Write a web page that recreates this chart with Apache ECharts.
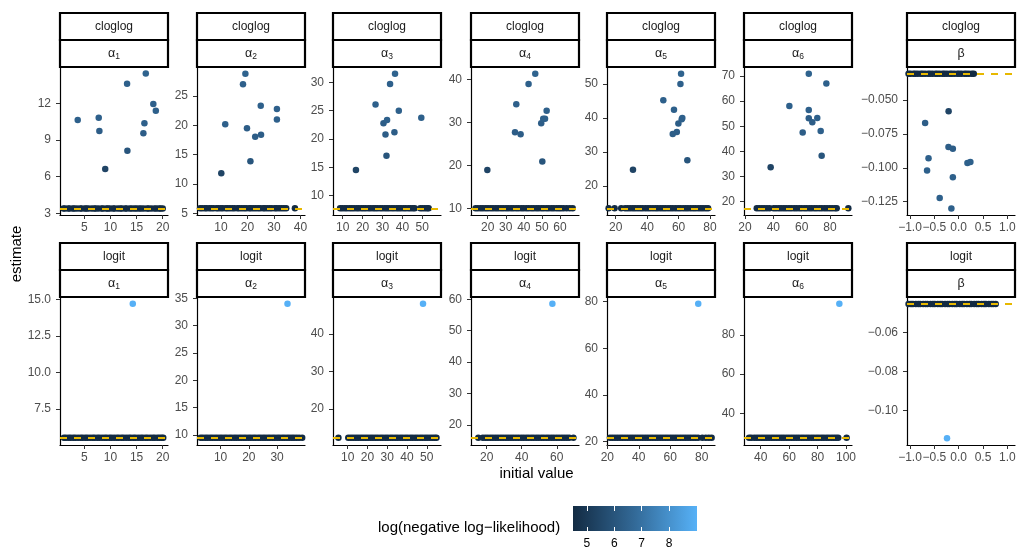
<!DOCTYPE html>
<html>
<head>
<meta charset="utf-8">
<title>Sensitivity of estimates to initial values</title>
<script src="https://cdn.jsdelivr.net/npm/echarts@6/dist/echarts.min.js"></script>
<style>
  html, body { margin: 0; padding: 0; background: #ffffff; }
  #chart { width: 1022px; height: 549px; }
</style>
</head>
<body>
<div id="chart"></div>
<script>
// ---------------------------------------------------------------------------
// Data
// ---------------------------------------------------------------------------
const links = ['cloglog', 'logit'];
const params = ['α1', 'α2', 'α3', 'α4', 'α5', 'α6', 'β'];

// Converged estimate (dashed reference line) for each link and parameter
const mleCloglog = [3.40, 5.85, 7.78, 10.0, 13.44, 17.37, -0.0306];
const mleLogit = [5.54, 9.51, 12.35, 15.96, 21.71, 27.55, -0.0456];

// log(negative log-likelihood) of the runs that reached the optimum
const convergedNll = 4.5;

// Initial values of the runs that reached the optimum
const convergedInitCloglog = [
  [1.0, 1.3, 1.9, 2.2, 2.8, 3.1, 3.6, 4.2, 4.5, 5.1, 5.4, 5.8, 6.4, 6.9, 7.2, 7.7, 8.3, 8.6, 9.2, 9.5, 9.9, 10.5, 10.8, 11.4,
   11.9, 12.2, 12.8, 13.1, 13.7, 14.1, 14.6, 15.0, 15.5, 15.9, 16.4, 17.0, 17.3, 17.8, 18.4, 18.8, 19.3, 19.6, 20.0],
  [2.1, 2.9, 3.9, 4.6, 5.6, 6.4, 7.2, 8.3, 9.0, 9.9, 10.7, 11.8, 12.5, 13.4, 14.3, 15.1, 16.2, 16.9, 17.8, 18.7, 19.5,
   20.6, 21.3, 22.2, 23.1, 24.0, 24.8, 25.9, 26.6, 27.5, 28.4, 29.2, 30.3, 31.0, 31.9, 32.8, 33.7, 34.6, 37.9],
  [8.7, 9.8, 11.1, 12.2, 13.5, 14.6, 15.7, 17.0, 18.1, 19.4, 20.5, 21.6, 22.9, 24.0, 25.3, 26.4, 27.5, 28.8, 29.9, 31.2,
   32.3, 33.4, 34.7, 35.8, 37.1, 38.2, 39.3, 40.6, 41.7, 43.0, 44.1, 45.3, 46.2, 49.0, 50.1, 51.3, 52.4, 53.2],
  [13.3, 14.6, 16.1, 17.4, 18.9, 20.2, 21.7, 23.0, 24.5, 25.8, 27.3, 28.6, 30.1, 31.4, 32.9, 34.2, 35.7, 37.0, 38.5, 39.8,
   41.3, 42.6, 44.1, 45.4, 46.9, 48.2, 49.7, 51.0, 52.5, 53.8, 55.3, 56.6, 58.1, 59.4, 60.6, 62.0, 63.7, 65.4, 67.0],
  [15.5, 19.3, 23.5, 26.0, 27.6, 29.2, 30.9, 32.4, 34.1, 35.7, 37.2, 38.9, 40.5, 42.0, 43.7, 45.3, 46.8, 48.5, 50.1, 51.6,
   53.3, 54.9, 56.4, 58.1, 59.7, 61.2, 62.9, 64.5, 66.0, 67.7, 69.3, 70.8, 72.5, 74.1, 75.6, 77.3, 78.8],
  [28.3, 30.0, 31.9, 33.6, 35.5, 37.4, 40.2, 41.9, 43.8, 45.5, 47.4, 49.1, 51.0, 52.7, 54.6, 56.3, 58.2, 59.9, 61.8, 63.5,
   65.4, 67.1, 69.0, 70.7, 72.6, 74.3, 76.2, 77.9, 79.8, 81.5, 83.4, 84.7, 92.9],
  [-1.03, -0.99, -0.93, -0.89, -0.84, -0.78, -0.74, -0.69, -0.63, -0.59, -0.54, -0.48, -0.44, -0.39, -0.33, -0.29, -0.24,
   -0.18, -0.14, -0.09, -0.03, 0.01, 0.06, 0.12, 0.16, 0.21, 0.27, 0.31]
];
const convergedInitLogit = [
  [1.1, 1.5, 2.0, 2.4, 2.9, 3.3, 3.8, 4.3, 4.7, 5.2, 5.6, 6.1, 6.6, 7.0, 7.5, 7.9, 8.4, 8.9, 9.3, 9.8, 10.2, 10.7, 11.2,
   11.6, 12.1, 12.5, 13.0, 13.5, 13.9, 14.4, 14.8, 15.3, 15.8, 16.2, 16.7, 17.1, 17.6, 18.1, 18.5, 19.0, 19.4, 19.8, 20.1],
  [2.9, 3.7, 4.6, 5.4, 6.3, 7.1, 8.0, 8.8, 9.7, 10.5, 11.4, 12.2, 13.1, 13.9, 14.8, 15.6, 16.5, 17.3, 18.2, 19.0, 19.9,
   20.7, 21.6, 22.4, 23.3, 24.1, 25.0, 25.8, 26.7, 27.5, 28.4, 29.2, 30.1, 30.9, 31.8, 32.6, 33.5, 34.3, 35.2, 36.0, 36.9,
   37.8, 38.9],
  [5.3, 10.3, 11.6, 12.8, 14.1, 15.3, 16.6, 17.8, 19.1, 20.3, 21.6, 22.8, 24.1, 25.3, 26.6, 27.8, 29.1, 30.3, 31.6, 32.8,
   34.1, 35.3, 36.6, 37.8, 39.1, 40.3, 41.6, 42.8, 44.1, 45.3, 46.6, 47.8, 49.1, 50.3, 51.6, 52.8, 54.0, 54.9],
  [15.2, 17.8, 19.3, 20.7, 22.2, 23.6, 25.1, 26.5, 28.0, 29.4, 30.9, 32.3, 33.8, 35.2, 36.7, 38.1, 39.6, 41.0, 42.5, 43.9,
   45.4, 46.8, 48.3, 49.7, 51.2, 52.6, 54.1, 55.5, 57.0, 58.4, 59.9, 61.3, 62.8, 64.2, 65.7, 67.1, 69.5],
  [21.7, 23.3, 24.9, 26.5, 28.1, 29.7, 31.3, 32.9, 34.5, 36.1, 37.7, 39.3, 40.9, 42.5, 44.1, 45.7, 47.3, 48.9, 50.5, 52.1,
   53.7, 55.3, 56.9, 58.5, 60.1, 61.7, 63.3, 64.9, 66.5, 68.1, 69.7, 71.3, 72.9, 74.5, 76.1, 77.7, 80.4, 82.6, 84.5, 86.3],
  [31.8, 33.3, 35.4, 37.2, 38.9, 40.7, 42.4, 44.2, 45.9, 47.7, 49.4, 51.2, 52.9, 54.7, 56.4, 58.2, 59.9, 61.7, 63.4, 65.2,
   66.9, 68.7, 70.4, 72.2, 73.9, 75.7, 77.4, 79.2, 80.9, 82.7, 84.4, 86.2, 87.9, 89.7, 91.4, 93.0, 94.5, 100.4],
  [-1.03, -0.98, -0.94, -0.88, -0.83, -0.79, -0.73, -0.68, -0.64, -0.58, -0.53, -0.49, -0.43, -0.38, -0.34, -0.28, -0.23,
   -0.19, -0.13, -0.08, -0.04, 0.02, 0.07, 0.11, 0.17, 0.22, 0.26, 0.32, 0.37, 0.41, 0.47, 0.52, 0.56, 0.62, 0.67, 0.71, 0.76]
];

// Runs that stopped elsewhere: [initial value, estimate, log(negative log-likelihood)]
const strayCloglog = [
  [[3.74, 10.63, 6.4], [7.76, 10.82, 6.4], [7.88, 9.73, 6.3], [9.0, 6.63, 5.4], [13.18, 13.6, 6.4], [13.24, 8.12, 6.0],
   [16.76, 14.43, 6.5], [16.3, 9.55, 6.3], [16.5, 10.36, 6.4], [18.2, 11.94, 6.4], [18.68, 11.4, 6.4]],
  [[10.1, 11.82, 5.4], [11.6, 20.2, 6.4], [18.3, 27.0, 6.4], [19.2, 28.8, 6.5], [19.8, 19.5, 6.3], [21.1, 13.86, 6.0],
   [22.9, 18.06, 6.3], [25.1, 18.4, 6.3], [25.0, 23.34, 6.4], [31.1, 22.8, 6.4], [31.1, 21.0, 6.4]],
  [[16.65, 14.53, 5.4], [26.5, 26.1, 6.4], [33.8, 29.7, 6.4], [36.3, 31.5, 6.5], [30.5, 22.8, 6.3], [32.3, 23.36, 6.4],
   [31.5, 20.8, 6.3], [32.0, 17.06, 6.0], [36.0, 21.2, 6.3], [38.2, 25.0, 6.4], [49.5, 23.77, 6.4]],
  [[19.8, 18.9, 5.4], [35.8, 34.2, 6.4], [42.6, 38.9, 6.4], [46.3, 41.3, 6.5], [35.1, 27.7, 6.3], [38.2, 27.2, 6.3],
   [49.6, 29.8, 6.3], [50.7, 30.8, 6.4], [51.7, 30.8, 6.4], [52.6, 32.7, 6.4], [50.2, 20.9, 6.0]],
  [[31.0, 24.8, 5.4], [50.3, 45.2, 6.4], [57.1, 42.4, 6.4], [61.6, 53.0, 6.5], [61.2, 50.0, 6.4], [56.3, 35.3, 6.3],
   [58.9, 35.9, 6.3], [59.9, 38.4, 6.3], [62.0, 39.6, 6.4], [62.4, 40.0, 6.4], [65.6, 27.6, 6.0]],
  [[38.1, 33.7, 5.4], [51.3, 58.1, 6.4], [65.0, 70.9, 6.5], [77.4, 67.0, 6.4], [65.0, 56.5, 6.4], [65.0, 53.2, 6.3],
   [67.5, 51.6, 6.3], [71.0, 53.3, 6.4], [60.7, 47.5, 6.3], [73.4, 48.1, 6.4], [74.1, 38.3, 6.0]],
  [[-0.207, -0.0583, 5.4], [-0.69, -0.067, 6.3], [-0.62, -0.093, 6.4], [-0.65, -0.102, 6.4], [-0.21, -0.0847, 6.3],
   [-0.12, -0.086, 6.3], [-0.12, -0.107, 6.4], [-0.39, -0.1223, 6.4], [-0.15, -0.130, 6.4], [0.18, -0.0965, 6.4], [0.24, -0.0957, 6.4]]
];
const strayLogit = [
  [[14.27, 14.7, 9.0]],
  [[33.7, 34.0, 9.0]],
  [[48.1, 48.1, 9.0]],
  [[57.5, 58.6, 9.0]],
  [[77.8, 79.1, 9.0]],
  [[95.3, 96.0, 9.0]],
  [[-0.24, -0.1141, 9.0]]
];

// Colour scale of log(negative log-likelihood)
const nllRange = [4.49, 9.02];
const nllBreaks = [5, 6, 7, 8];

// Axis breaks per panel (row = link, column = parameter)
const xBreaks = [
  [[5, 10, 15, 20], [10, 20, 30, 40], [10, 20, 30, 40, 50], [20, 30, 40, 50, 60], [20, 40, 60, 80], [20, 40, 60, 80], [-1, -0.5, 0, 0.5, 1]],
  [[5, 10, 15, 20], [10, 20, 30], [10, 20, 30, 40, 50], [20, 40, 60], [20, 40, 60, 80], [40, 60, 80, 100], [-1, -0.5, 0, 0.5, 1]]
];
const yBreaks = [
  [[3, 6, 9, 12], [5, 10, 15, 20, 25], [10, 15, 20, 25, 30], [10, 20, 30, 40], [20, 30, 40, 50], [20, 30, 40, 50, 60, 70], [-0.125, -0.1, -0.075, -0.05]],
  [[7.5, 10, 12.5, 15], [10, 15, 20, 25, 30, 35], [20, 30, 40], [20, 30, 40, 50, 60], [20, 40, 60, 80], [40, 60, 80], [-0.1, -0.08, -0.06]]
];
const xDigits = [[0, 0, 0, 0, 0, 0, 1], [0, 0, 0, 0, 0, 0, 1]];
const yDigits = [[0, 0, 0, 0, 0, 0, 3], [1, 0, 0, 0, 0, 0, 2]];

// ---------------------------------------------------------------------------
// Layout and scale limits (free scales per facet)
// ---------------------------------------------------------------------------
const panelLeft = [60, 197, 333, 471, 607, 744, 907];
const panelWidth = 108;
const rowTop = [67, 297];
const panelHeight = 148;
const stripHeight = 27;

const xLimits = [
  [[0.35, 21.01], [0.94, 41.7], [5.13, 59.4], [10.76, 70.5], [14.46, 83.2], [19.3, 95.5], [-1.062, 1.157]],
  [[0.35, 21.01], [1.64, 39.9], [2.56, 57.2], [11.03, 72.7], [19.8, 88.45], [28.25, 104.2], [-1.062, 1.157]]
];
const yLimits = [
  [[2.86, 14.97], [4.71, 29.94], [6.6, 32.7], [8.44, 42.86], [11.47, 55.0], [14.7, 73.58], [-0.1348, -0.02566]],
  [[5.04, 15.16], [8.17, 35.24], [10.4, 49.87], [13.64, 60.73], [18.59, 82.0], [23.8, 99.4], [-0.1175, -0.042]]
];

const FONT = '"Liberation Sans", Arial, Helvetica, sans-serif';
const scaleColors = ['#132B43', '#336A98', '#56B1F7'];

function fmt(v, d) {
  return (v < -1e-12 ? '\u2212' : '') + Math.abs(v).toFixed(d);
}

// ---------------------------------------------------------------------------
// Build option
// ---------------------------------------------------------------------------
const grids = [], xAxes = [], yAxes = [], series = [], graphics = [];
const mle = [mleCloglog, mleLogit];
const convergedInit = [convergedInitCloglog, convergedInitLogit];
const stray = [strayCloglog, strayLogit];

for (let r = 0; r < links.length; r++) {
  for (let c = 0; c < params.length; c++) {
    const g = grids.length;
    grids.push({
      left: panelLeft[c], top: rowTop[r], width: panelWidth, height: panelHeight,
      containLabel: false, outerBoundsMode: 'none'
    });
    const xd = xDigits[r][c], yd = yDigits[r][c];
    xAxes.push({
      type: 'value', gridIndex: g, min: xLimits[r][c][0], max: xLimits[r][c][1],
      axisLine: { show: true, onZero: false, lineStyle: { color: '#000', width: 1.2 } },
      axisTick: { show: true, length: 4, lineStyle: { color: '#333', width: 1 }, customValues: xBreaks[r][c] },
      axisLabel: {
        show: true, customValues: xBreaks[r][c], margin: 7, color: '#4D4D4D',
        fontSize: 12, fontFamily: FONT, formatter: v => fmt(v, xd)
      },
      splitLine: { show: false }
    });
    yAxes.push({
      type: 'value', gridIndex: g, min: yLimits[r][c][0], max: yLimits[r][c][1],
      axisLine: { show: true, onZero: false, lineStyle: { color: '#000', width: 1.2 } },
      axisTick: { show: true, length: 4, lineStyle: { color: '#333', width: 1 }, customValues: yBreaks[r][c] },
      axisLabel: {
        show: true, customValues: yBreaks[r][c], margin: 9, color: '#4D4D4D',
        fontSize: 12, fontFamily: FONT, formatter: v => fmt(v, yd)
      },
      splitLine: { show: false }
    });

    const pts = convergedInit[r][c].map(x => [x, mle[r][c], convergedNll])
      .concat(stray[r][c]);
    series.push({
      type: 'scatter', xAxisIndex: g, yAxisIndex: g, data: pts,
      symbol: 'circle', symbolSize: 6.5, silent: true, z: 2,
      itemStyle: { opacity: 1 },
      markLine: {
        silent: true, symbol: 'none', animation: false, z: 5, precision: 8,
        label: { show: false },
        lineStyle: { color: '#E7B800', type: [7, 7], width: 2 },
        emphasis: { disabled: true },
        data: [{ yAxis: mle[r][c] }]
      }
    });

    // facet strips: link on top, parameter below
    const stripTop = rowTop[r] - 2 * stripHeight;
    const p = params[c];
    const paramText = p.length > 1 ? '{a|' + p[0] + '}{s|' + p.slice(1) + '}' : '{a|' + p + '}';
    graphics.push(
      {
        type: 'rect', silent: true, z: 10,
        shape: { x: panelLeft[c], y: stripTop, width: panelWidth, height: stripHeight },
        style: { fill: '#ffffff', stroke: '#000000', lineWidth: 2.2 }
      },
      {
        type: 'rect', silent: true, z: 10,
        shape: { x: panelLeft[c], y: stripTop + stripHeight, width: panelWidth, height: stripHeight },
        style: { fill: '#ffffff', stroke: '#000000', lineWidth: 2.2 }
      },
      {
        type: 'text', silent: true, z: 11,
        x: panelLeft[c] + panelWidth / 2, y: stripTop + stripHeight / 2,
        style: {
          text: links[r], fill: '#1A1A1A', fontSize: 12, fontFamily: FONT,
          align: 'center', verticalAlign: 'middle'
        }
      },
      {
        type: 'text', silent: true, z: 11,
        x: panelLeft[c] + panelWidth / 2, y: stripTop + stripHeight * 1.5,
        style: {
          text: paramText, align: 'center', verticalAlign: 'middle',
          rich: {
            a: { fontSize: 12.5, fontFamily: FONT, fill: '#1A1A1A' },
            s: { fontSize: 8.5, fontFamily: FONT, fill: '#1A1A1A', padding: [6, 0, 0, 0] }
          }
        }
      }
    );
  }
}

// Colour bar legend
const legendGrid = grids.length;
grids.push({ left: 573, top: 506, width: 124, height: 25, containLabel: false, outerBoundsMode: 'none' });
xAxes.push({
  type: 'value', gridIndex: legendGrid, position: 'bottom', min: nllRange[0], max: nllRange[1], z: 6,
  axisLine: { show: false },
  axisTick: { show: true, inside: true, length: 4, lineStyle: { color: '#ffffff', width: 1 }, customValues: nllBreaks },
  axisLabel: { show: true, customValues: nllBreaks, margin: 7, color: '#000000', fontSize: 12, fontFamily: FONT },
  splitLine: { show: false }
});
xAxes.push({
  type: 'value', gridIndex: legendGrid, position: 'top', min: nllRange[0], max: nllRange[1], z: 6,
  axisLine: { show: false },
  axisTick: { show: true, inside: true, length: 5, lineStyle: { color: '#ffffff', width: 1 }, customValues: nllBreaks },
  axisLabel: { show: false },
  splitLine: { show: false }
});
yAxes.push({ type: 'value', gridIndex: legendGrid, min: 0, max: 1, show: false });

series.push({
  type: 'custom', xAxisIndex: legendGrid, yAxisIndex: legendGrid, silent: true, z: 1,
  data: [[nllRange[0], nllRange[1]]],
  encode: { x: [0, 1] },
  renderItem: function (params, api) {
    const p0 = api.coord([api.value(0), 0]);
    const p1 = api.coord([api.value(1), 1]);
    return {
      type: 'rect',
      shape: { x: p0[0], y: p1[1], width: p1[0] - p0[0], height: p0[1] - p1[1] },
      style: {
        fill: new echarts.graphic.LinearGradient(0, 0, 1, 0, [
          { offset: 0, color: scaleColors[0] },
          { offset: 0.5, color: scaleColors[1] },
          { offset: 1, color: scaleColors[2] }
        ])
      }
    };
  }
});

// Axis and legend titles
graphics.push(
  {
    type: 'text', silent: true, x: 17, y: 254, rotation: Math.PI / 2,
    style: { text: 'estimate', fill: '#000', fontSize: 15, fontFamily: FONT, align: 'center', verticalAlign: 'middle' }
  },
  {
    type: 'text', silent: true, x: 536.5, y: 474,
    style: { text: 'initial value', fill: '#000', fontSize: 15, fontFamily: FONT, align: 'center', verticalAlign: 'middle' }
  },
  {
    type: 'text', silent: true, x: 378, y: 528,
    style: { text: 'log(negative log\u2212likelihood)', fill: '#000', fontSize: 15, fontFamily: FONT, align: 'left', verticalAlign: 'middle' }
  }
);

const panelSeries = [];
for (let i = 0; i < links.length * params.length; i++) panelSeries.push(i);

const option = {
  animation: false,
  backgroundColor: '#ffffff',
  textStyle: { fontFamily: FONT },
  grid: grids,
  xAxis: xAxes,
  yAxis: yAxes,
  visualMap: {
    type: 'continuous', show: false, dimension: 2, seriesIndex: panelSeries,
    min: nllRange[0], max: nllRange[1],
    inRange: { color: scaleColors }
  },
  series: series,
  graphic: { elements: graphics }
};

const chart = echarts.init(document.getElementById('chart'), null, { renderer: 'canvas' });
chart.setOption(option);
</script>
</body>
</html>
